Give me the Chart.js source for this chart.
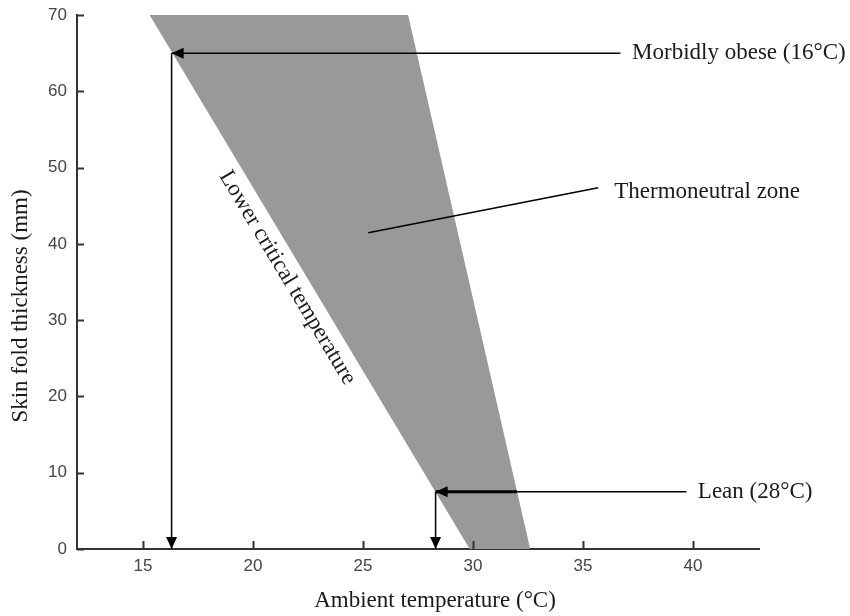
<!DOCTYPE html>
<html>
<head>
<meta charset="utf-8">
<script src="https://cdn.jsdelivr.net/npm/chart.js@4.4.1/dist/chart.umd.min.js"></script>
<style>html,body{margin:0;background:#fff}</style>
</head>
<body>
<canvas id="chart" width="850" height="616"></canvas>
<script>
/* ─── data ─────────────────────────────────────────────── */
const xTicks = [15, 20, 25, 30, 35, 40];          // °C
const yTicks = [0, 10, 20, 30, 40, 50, 60, 70];   // mm

// thermoneutral wedge: lower & upper edge temps at 70 mm and at 0 mm
const zoneSkin        = [70, 0];
const zoneLowerTemps  = [15.3, 29.85];   // lower critical temperature
const zoneUpperTemps  = [27.05, 32.6];

// arrows: [temp, skin fold] of the tip, plus where the pointer line ends
const obeseTip   = [16.3, 65];
const obeseEnd   = 36.7;
const leanTip    = [28.3, 7.5];
const leanBold   = 32.0;
const leanEnd    = 39.7;
const zonePointer = [[25.24, 41.45], [35.69, 47.35]];

const noteTexts = ['Morbidly obese (16°C)', 'Lean (28°C)', 'Thermoneutral zone'];
const notePos   = [[37.23, 65], [40.22, 7.5], [36.42, 46.83]];
const edgeLabel = 'Lower critical temperature';
const edgeLabelSkin = 36.7;

const xTitle = 'Ambient temperature (°C)';
const yTitle = 'Skin fold thickness (mm)';

/* ─── helpers ─────────────────────────────────────────── */
const pt = (x, y) => ({ x, y });
const SERIF = '23px "Liberation Serif", "Times New Roman", serif';

const wedge = [
  pt(zoneLowerTemps[0], zoneSkin[0]),
  pt(zoneUpperTemps[0], zoneSkin[0]),
  pt(zoneUpperTemps[1], zoneSkin[1]),
  pt(zoneLowerTemps[1], zoneSkin[1]),
  pt(zoneLowerTemps[0], zoneSkin[0])
];

function lineSet(points, width) {
  return {
    data: points, showLine: true, fill: false, order: 0,
    borderColor: '#000', borderWidth: width,
    pointRadius: 0, pointHoverRadius: 0
  };
}

function arrowHead(ctx, tx, ty, dx, dy) {
  const len = 12, half = 5.5;
  const bx = tx - dx * len, by = ty - dy * len;
  ctx.beginPath();
  ctx.moveTo(tx, ty);
  ctx.lineTo(bx - dy * half, by + dx * half);
  ctx.lineTo(bx + dy * half, by - dx * half);
  ctx.closePath();
  ctx.fill();
}

/* ─── decorations: inward ticks, arrow heads, notes ───── */
const decor = {
  id: 'decor',
  afterDraw(chart) {
    const { ctx, chartArea: a, scales: { x, y } } = chart;
    ctx.save();

    // inward tick marks
    ctx.strokeStyle = '#333';
    ctx.lineWidth = 2;
    ctx.beginPath();
    xTicks.forEach(v => {
      const px = Math.round(x.getPixelForValue(v)) + 0.5;
      ctx.moveTo(px, a.bottom); ctx.lineTo(px, a.bottom - 8);
    });
    yTicks.forEach(v => {
      const py = Math.round(y.getPixelForValue(v)) + 0.5;
      ctx.moveTo(a.left, py); ctx.lineTo(a.left + 7, py);
    });
    ctx.stroke();

    // arrow heads
    ctx.fillStyle = '#000';
    const ox = x.getPixelForValue(obeseTip[0]), oy = y.getPixelForValue(obeseTip[1]);
    arrowHead(ctx, ox, oy, -1, 0);
    arrowHead(ctx, ox, y.getPixelForValue(0), 0, 1);
    const lx = x.getPixelForValue(leanTip[0]), ly = y.getPixelForValue(leanTip[1]);
    arrowHead(ctx, lx, ly, -1, 0);
    arrowHead(ctx, lx, y.getPixelForValue(0), 0, 1);

    // notes
    ctx.font = SERIF;
    ctx.fillStyle = '#1a1a1a';
    ctx.textAlign = 'left';
    ctx.textBaseline = 'middle';
    noteTexts.forEach((t, i) => {
      ctx.fillText(t, x.getPixelForValue(notePos[i][0]), y.getPixelForValue(notePos[i][1]));
    });

    // label along the lower critical temperature edge
    const x0 = x.getPixelForValue(zoneLowerTemps[0]), y0 = y.getPixelForValue(zoneSkin[0]);
    const x1 = x.getPixelForValue(zoneLowerTemps[1]), y1 = y.getPixelForValue(zoneSkin[1]);
    const f = (zoneSkin[0] - edgeLabelSkin) / (zoneSkin[0] - zoneSkin[1]);
    ctx.save();
    ctx.translate(x0 + (x1 - x0) * f, y0 + (y1 - y0) * f);
    ctx.rotate(Math.atan2(y1 - y0, x1 - x0));
    ctx.textAlign = 'center';
    ctx.fillText(edgeLabel, 0, 17);
    ctx.restore();

    // axis titles
    ctx.textAlign = 'center';
    ctx.fillText(xTitle, 435, 601);
    ctx.save();
    ctx.translate(21, 306);
    ctx.rotate(-Math.PI / 2);
    ctx.fillText(yTitle, 0, 0);
    ctx.restore();

    ctx.restore();
  }
};

/* ─── chart ───────────────────────────────────────────── */
const tickFont = { family: '"Liberation Sans", Arial, sans-serif', size: 17 };

new Chart(document.getElementById('chart'), {
  type: 'scatter',
  data: {
    datasets: [
      {
        data: wedge, showLine: true, fill: 'shape', order: 10,
        backgroundColor: '#999999', borderWidth: 0,
        pointRadius: 0, pointHoverRadius: 0
      },
      lineSet([pt(obeseEnd, obeseTip[1]), pt(obeseTip[0], obeseTip[1])], 1.5),
      lineSet([pt(obeseTip[0], obeseTip[1]), pt(obeseTip[0], 0)], 1.5),
      lineSet([pt(leanEnd, leanTip[1]), pt(leanBold, leanTip[1])], 1.5),
      lineSet([pt(leanBold, leanTip[1]), pt(leanTip[0], leanTip[1])], 3),
      lineSet([pt(leanTip[0], leanTip[1]), pt(leanTip[0], 0)], 1.5),
      lineSet(zonePointer.map(p => pt(p[0], p[1])), 1.5)
    ]
  },
  options: {
    responsive: false,
    animation: false,
    layout: { padding: { top: 15, right: 91, left: 0, bottom: 0 } },
    plugins: { legend: { display: false }, tooltip: { enabled: false } },
    scales: {
      x: {
        type: 'linear', min: 12, max: 43,
        afterBuildTicks: s => { s.ticks = xTicks.map(v => ({ value: v })); },
        afterFit: s => { s.height = 67; s.paddingLeft = 0; s.paddingRight = 0; },
        grid: { drawOnChartArea: false, drawTicks: false },
        border: { display: true, color: '#333', width: 2 },
        ticks: { font: tickFont, color: '#444', padding: 7 }
      },
      y: {
        type: 'linear', min: 0, max: 70,
        afterBuildTicks: s => { s.ticks = yTicks.map(v => ({ value: v })); },
        afterFit: s => { s.width = 77; s.paddingTop = 0; s.paddingBottom = 0; },
        grid: { drawOnChartArea: false, drawTicks: false },
        border: { display: true, color: '#333', width: 2 },
        ticks: { font: tickFont, color: '#444', padding: 10 }
      }
    }
  },
  plugins: [decor]
});
</script>
</body>
</html>
